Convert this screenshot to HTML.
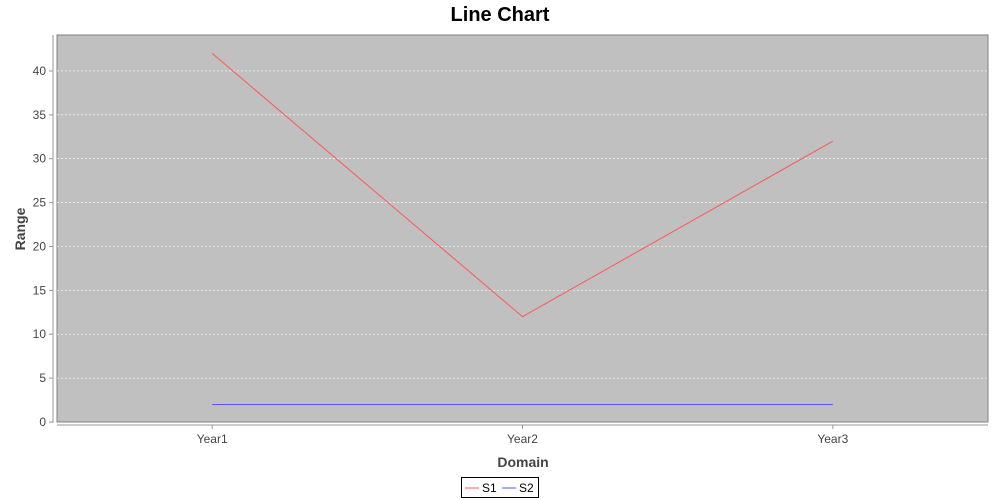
<!DOCTYPE html>
<html><head><meta charset="utf-8"><style>body{margin:0;background:#fff}svg{display:block;font-family:"Liberation Sans","DejaVu Sans",sans-serif}</style></head>
<body>
<svg id="c" width="1000" height="500"></svg>
<script>
const categories=["Year1","Year2","Year3"];
const s1=[42,12,32];
const s2=[2,2,2];
const yTicks=[0,5,10,15,20,25,30,35,40];
const NS="http://www.w3.org/2000/svg";
const svg=document.getElementById('c');
const L=57,R=988,T=35,B=422,yMax=44.1;
const y=v=>B-v*(B-T)/yMax;
const x=i=>L+(i+0.5)*(R-L)/categories.length;
function mk(t,a,p){const e=document.createElementNS(NS,t);for(const k in a)e.setAttribute(k,a[k]);(p||svg).appendChild(e);return e;}
let e;
e=mk('text',{x:500,y:21,'text-anchor':'middle','font-size':20,'font-weight':'bold',fill:'#000'});e.textContent='Line Chart';


e=mk('rect',{x:L,y:T,width:R-L,height:B-T,fill:'#c0c0c0',stroke:'#808080','stroke-width':1});


yTicks.forEach(v=>{
 if(v>0){e=mk('line',{x1:L,x2:R,y1:y(v),y2:y(v),stroke:'#fff','stroke-width':0.6,'stroke-dasharray':'2,2'});
 
 }
 e=mk('line',{x1:49,x2:53,y1:y(v),y2:y(v),stroke:'#999'});
 
 
 e=mk('text',{x:46,y:y(v)+4,'text-anchor':'end','font-size':12,fill:'#444'});e.textContent=v;
 
 
});
e=mk('line',{x1:53,x2:53,y1:T,y2:B+1,stroke:'#999'});


e=mk('line',{x1:L,x2:R,y1:425,y2:425,stroke:'#999'});


categories.forEach((c,i)=>{
 e=mk('line',{x1:x(i),x2:x(i),y1:425,y2:429,stroke:'#999'});
 
 
 e=mk('text',{x:x(i),y:443,'text-anchor':'middle','font-size':12,fill:'#444'});e.textContent=c;
 
 
});
e=mk('text',{x:523,y:467,'text-anchor':'middle','font-size':14,'font-weight':'bold',fill:'#444'});e.textContent='Domain';


e=mk('text',{x:25,y:229,'text-anchor':'middle','font-size':14,'font-weight':'bold',fill:'#444',transform:'rotate(-90 25 229)'});e.textContent='Range';


[[s1,'#ff5555','series-s1'],[s2,'#5555ff','series-s2']].forEach(([d,col,n])=>{
 e=mk('polyline',{points:d.map((v,i)=>x(i)+','+y(v)).join(' '),fill:'none',stroke:col,'stroke-width':1});
 
 
});
const lg=mk('g',{});


mk('rect',{x:461.5,y:477.5,width:77,height:20,fill:'#fff',stroke:'#000'},lg);
mk('line',{x1:465,x2:479,y1:488,y2:488,stroke:'#ff5555'},lg);
e=mk('text',{x:482,y:492,'font-size':12,fill:'#000'},lg);e.textContent='S1';


mk('line',{x1:502,x2:516,y1:488,y2:488,stroke:'#5555ff'},lg);
e=mk('text',{x:519,y:492,'font-size':12,fill:'#000'},lg);e.textContent='S2';


</script>
</body></html>
